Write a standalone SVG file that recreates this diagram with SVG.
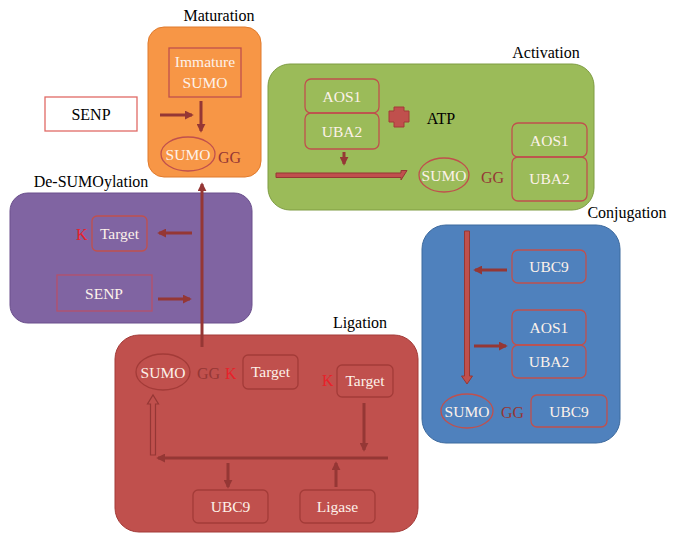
<svg xmlns="http://www.w3.org/2000/svg" width="680" height="544" viewBox="0 0 680 544" font-family="'Liberation Serif', 'DejaVu Serif', serif">
<defs>
<style>
.lbl{font-family:'Liberation Serif','DejaVu Serif',serif;font-size:16px;fill:#000;text-anchor:middle;}
.w{font-family:'Liberation Serif','DejaVu Serif',serif;font-size:15.5px;fill:#FDF2EA;text-anchor:middle;}
.gg{font-family:'Liberation Serif','DejaVu Serif',serif;font-size:16px;fill:#953735;}
.k{font-family:'Liberation Serif','DejaVu Serif',serif;font-size:16px;fill:#E8212A;}
.ib{fill:none;stroke:#C0504D;stroke-width:1.3;}
.ibd{fill:none;stroke:#A33B38;stroke-width:1.3;}
.arr{stroke:#953735;stroke-width:3;fill:none;}
.blk{fill:#C0504D;stroke:#953735;stroke-width:1;}
</style>
<marker id="ah" viewBox="0 0 10 10" refX="8" refY="5" markerWidth="3" markerHeight="3" orient="auto" markerUnits="strokeWidth">
<path d="M0,0 L10,5 L0,10 z" fill="#953735"/>
</marker>
</defs>

<g id="maturation">
<text class="lbl" x="219" y="21">Maturation</text>
<rect x="148" y="27" width="113" height="150" rx="16" fill="#F79646" stroke="#E07A2C" stroke-width="1"/>
<rect class="ib" x="169" y="48" width="72" height="49"/>
<text class="w" x="205" y="67">Immature</text>
<text class="w" x="205" y="88">SUMO</text>
<ellipse class="ib" cx="188" cy="154" rx="27" ry="17"/>
<text class="w" x="188" y="160">SUMO</text>
<text class="gg" x="218" y="163">GG</text>
</g>

<g id="senp-free">
<rect x="45" y="97" width="92" height="34" fill="#FFFFFF" stroke="#E06A66" stroke-width="1.3"/>
<text class="lbl" x="91" y="120">SENP</text>
</g>

<g id="desumoylation">
<text class="lbl" x="91" y="187">De-SUMOylation</text>
<rect x="10" y="193" width="242" height="130" rx="18" fill="#8064A2" stroke="#6A4F8C" stroke-width="1"/>
<rect class="ib" x="92" y="216" width="55" height="35" rx="5"/>
<text class="w" x="119.500" y="239">Target</text>
<text class="k" x="76" y="240">K</text>
<rect x="57" y="275" width="95" height="36" fill="none" stroke="#B5506A" stroke-width="1.3"/>
<text class="w" x="104" y="299">SENP</text>
</g>

<g id="activation">
<text class="lbl" x="546" y="58">Activation</text>
<rect x="268" y="64" width="326" height="146" rx="22" fill="#9BBB59" stroke="#7E9C42" stroke-width="1"/>
<rect class="ib" x="305" y="79" width="74" height="34" rx="6"/>
<text class="w" x="342" y="102">AOS1</text>
<rect class="ib" x="305" y="113" width="74" height="36" rx="6"/>
<text class="w" x="342" y="137">UBA2</text>
<path d="M394,107 H404 V111 H409 V122 H404 V127 H394 V122 H389 V111 H394 Z" fill="#C0504D" stroke="#A33B38" stroke-width="1"/>
<text class="lbl" x="441" y="124">ATP</text>
<ellipse class="ib" cx="444" cy="175" rx="25" ry="17"/>
<text class="w" x="444" y="181">SUMO</text>
<text class="gg" x="481" y="183">GG</text>
<rect class="ib" x="512" y="123" width="75" height="34" rx="6"/>
<text class="w" x="549.500" y="146">AOS1</text>
<rect class="ib" x="512" y="157" width="75" height="44" rx="6"/>
<text class="w" x="549.500" y="184">UBA2</text>
</g>

<g id="conjugation">
<text class="lbl" x="627" y="218">Conjugation</text>
<rect x="422" y="225" width="198" height="218" rx="24" fill="#4F81BD" stroke="#3D6A9E" stroke-width="1"/>
<rect class="ib" x="512" y="250" width="74" height="33" rx="6"/>
<text class="w" x="549" y="272">UBC9</text>
<rect class="ib" x="512" y="310" width="74" height="35" rx="6"/>
<text class="w" x="549" y="333">AOS1</text>
<rect class="ib" x="512" y="345" width="74" height="33" rx="6"/>
<text class="w" x="549" y="367">UBA2</text>
<ellipse class="ib" cx="467" cy="411" rx="26" ry="17"/>
<text class="w" x="467" y="417">SUMO</text>
<text class="gg" x="501" y="418">GG</text>
<rect class="ib" x="531" y="395" width="76" height="32" rx="6"/>
<text class="w" x="569" y="417">UBC9</text>
</g>

<g id="ligation">
<text class="lbl" x="360" y="328">Ligation</text>
<rect x="115" y="335" width="303" height="197" rx="24" fill="#C0504D" stroke="#A33B38" stroke-width="1"/>
<ellipse class="ibd" cx="163" cy="372" rx="27" ry="18"/>
<text class="w" x="163" y="378">SUMO</text>
<text class="gg" x="197" y="379">GG</text>
<text class="k" x="225" y="379">K</text>
<rect class="ibd" x="243" y="355" width="55" height="34" rx="5"/>
<text class="w" x="270.500" y="377">Target</text>
<text class="k" x="322" y="386">K</text>
<rect class="ibd" x="337" y="365" width="56" height="32" rx="5"/>
<text class="w" x="365" y="386">Target</text>
<rect class="ibd" x="193" y="490" width="75" height="33" rx="5"/>
<text class="w" x="230.500" y="512">UBC9</text>
<rect class="ibd" x="300" y="490" width="75" height="33" rx="5"/>
<text class="w" x="337.500" y="512">Ligase</text>
</g>

<g id="connectors">
<line class="arr" x1="160" y1="115" x2="192" y2="115" marker-end="url(#ah)"/>
<line class="arr" x1="201" y1="101" x2="201" y2="131" marker-end="url(#ah)"/>
<line class="arr" x1="202" y1="347" x2="202" y2="184" marker-end="url(#ah)"/>
<line class="arr" x1="192" y1="233" x2="159" y2="233" marker-end="url(#ah)"/>
<line class="arr" x1="158" y1="299" x2="190" y2="299" marker-end="url(#ah)"/>
<line class="arr" x1="344" y1="152" x2="344" y2="164" marker-end="url(#ah)"/>
<path class="blk" d="M276,173 H401 V170.500 H407 L401,180 V177.500 H276 Z"/>
<path class="blk" d="M464.500,231 H469.500 V376 H472.500 L467,384 L461.500,376 H464.500 Z"/>
<line class="arr" x1="507" y1="270" x2="475" y2="270" marker-end="url(#ah)"/>
<line class="arr" x1="474" y1="346" x2="506" y2="346" marker-end="url(#ah)"/>
<line class="arr" x1="364" y1="403" x2="364" y2="450" marker-end="url(#ah)"/>
<line class="arr" x1="388" y1="458" x2="158" y2="458" marker-end="url(#ah)"/>
<path d="M150.500,455 V404 H147.500 L153,395 L158.500,404 H155.500 V455 Z" fill="none" stroke="#953735" stroke-width="1.2"/>
<line class="arr" x1="228" y1="463" x2="228" y2="487" marker-end="url(#ah)"/>
<line class="arr" x1="336" y1="487" x2="336" y2="463" marker-end="url(#ah)"/>
</g>
</svg>
